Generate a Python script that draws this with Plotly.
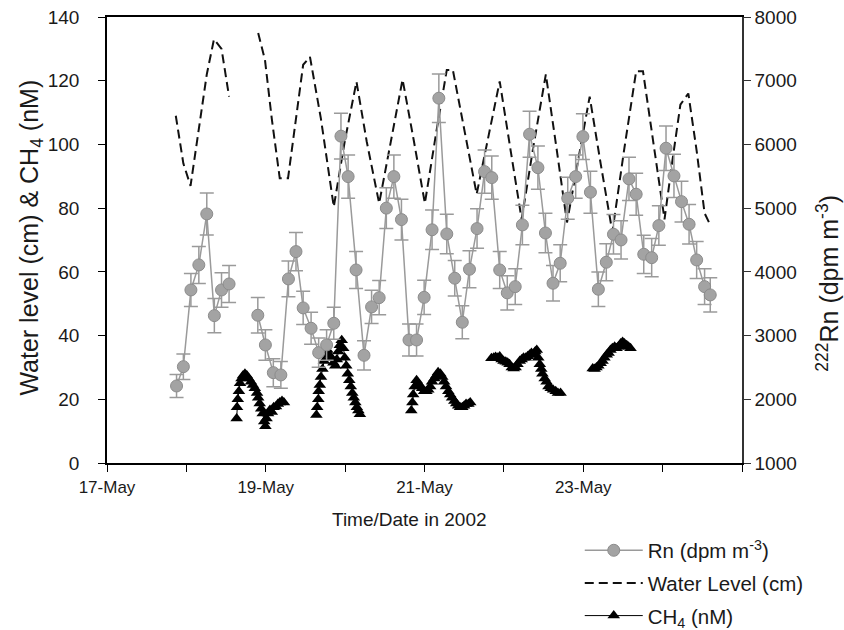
import plotly.graph_objects as go
import pandas as pd

# ---------------- data (hours after 17-May-2002 00:00) ----------------
rn_hours = [21.03, 23.09, 25.37, 27.77, 30.17, 32.46, 34.63, 36.91,
            41.14,
            45.6, 47.89, 50.29, 52.57, 54.86, 57.14, 59.31, 61.71, 64.0, 66.4, 68.57,
            70.74, 72.91, 75.31, 77.71, 80.0, 82.29, 84.46, 86.74, 89.03, 91.31, 93.6, 95.89,
            98.29, 100.34, 102.74, 105.14, 107.43, 109.6, 111.89, 114.17, 116.34, 118.74, 121.03, 123.43,
            125.6, 127.77, 130.29, 132.57, 134.86, 137.03, 139.31, 141.71, 143.89, 146.17, 148.57, 150.97,
            153.14, 155.43, 157.83, 160.0, 162.29, 164.69, 166.86, 169.03, 171.43, 173.71, 176.0, 178.29,
            180.69, 182.4]
rn_values = [2209, 2512, 3716, 4109, 4909, 3313, 3716, 3810,
             None,
             3319, 2853, 2418, 2382, 3889, 4318, 3434, 3115, 2732, 2853, 3193,
             6130, 5495, 4030, 2690, 3450, 3595, 5000, 5495, 4820, 2931, 2931, 3600,
             4660, 6726, 4595, 3900, 3209, 4041, 4679, 5573, 5479, 4030, 3670, 3768,
             4737, 6160, 5635, 4610, 3821, 4135, 5156, 5495, 6123, 5250, 3727, 4151,
             4590, 4501, 5459, 5219, 4276, 4223, 4726, 5941, 5506, 5102, 4747, 4187,
             3768, 3638]
rn_errors = [180, 200, 260, 290, 330, 270, 270, 290,
             0,
             280, 240, 220, 210, 280, 300, 260, 250, 230, 240, 250,
             360, 340, 290, 230, 260, 270, 320, 340, 320, 250, 250, 270,
             310, 380, 310, 280, 260, 290, 310, 340, 340, 290, 270, 280,
             310, 360, 340, 310, 280, 290, 330, 340, 360, 330, 270, 290,
             310, 300, 340, 330, 300, 300, 310, 350, 340, 320, 310, 290,
             280, 270]

wl_hours = [20.8, 23.09, 25.26, 28.11, 30.17, 32.34, 34.63, 36.91,
            41.14,
            45.71, 47.77, 49.83, 52.23, 54.74, 57.14, 59.31, 61.37, 64.69, 68.57,
            71.89, 75.43, 78.51, 82.29, 85.83, 89.37, 92.8, 96.11, 99.43, 102.74, 104.57,
            108.11, 111.77, 115.43, 118.74, 122.06, 125.37, 129.03, 132.69, 135.89, 139.09,
            142.63, 145.94, 149.26, 152.8, 156.46, 160.0, 162.06, 165.26, 168.57, 170.97,
            173.37, 175.77, 178.29, 180.69, 182.63]
wl_values = [109, 94, 87, 108, 122, 133, 130, 115,
             None,
             135, 126.5, 108, 89.4, 89.4, 108, 125, 127.5, 108, 80.4,
             101, 119.7, 101, 81.5, 101, 120.4, 101, 81.5, 103, 123.4, 123.4,
             104, 84.4, 103, 119.8, 98, 76.5, 100, 122, 99, 75.5,
             96, 115, 94, 72.5, 99, 123, 123, 100, 76.5, 95,
             112.5, 116, 98, 78.4, 74.2]

ch4_hours = [39.2, 39.31, 39.54, 39.89, 40.23, 40.69, 41.14, 41.71, 42.29, 42.86, 43.54, 44.11, 44.69, 45.37,
             45.71, 46.17, 46.63, 47.09, 47.54, 47.89, 48.23, 48.69, 49.26, 49.83, 50.4, 51.09, 51.66, 52.23,
             52.91, 53.49,
             58.29,
             63.31, 63.54, 63.89, 64.0, 64.34, 64.69, 65.14, 65.6, 66.06, 66.63, 67.2, 67.77, 68.46, 69.03,
             69.49, 69.94, 70.4, 70.97, 71.43, 71.89, 72.34, 72.8, 73.26, 73.71, 74.17, 74.63, 75.09, 75.54,
             76.0, 76.46,
             84.57,
             92.0, 92.34, 92.57, 93.03, 93.6, 94.06, 94.74, 95.31, 95.89, 96.57, 97.14, 97.71, 98.29, 98.97,
             99.54, 100.11, 100.8, 101.37, 101.94, 102.51, 103.2, 103.77, 104.34, 105.03, 105.6, 106.17,
             106.74, 107.43, 108.0, 108.57, 109.26, 109.83,
             113.14,
             116.23, 116.91, 117.49, 118.17, 118.74, 119.31, 119.89, 120.57, 121.14, 121.71, 122.4, 122.97,
             123.54, 124.11, 124.8, 125.37, 125.94, 126.63, 127.2, 127.77, 128.34, 129.03, 129.49, 129.94,
             130.4, 130.86, 131.31, 131.66, 132.34, 132.91, 133.49, 134.17, 134.86, 135.66, 136.34, 137.14,
             141.71,
             146.86, 147.43, 148.0, 148.57, 149.26, 149.83, 150.4, 151.09, 151.66, 152.23, 152.8, 153.49,
             154.06, 154.63, 155.31, 155.89, 156.46, 157.14, 157.71, 158.29]
ch4_values = [14.0, 17.5, 20.0, 22.5, 25.0, 26.5, 27.5, 28.0, 27.5, 26.5, 25.5, 24.5, 23.5, 22.0,
              20.5, 18.7, 17.0, 15.5, 13.0, 11.5, 14.0, 15.5, 16.6, 16.0, 17.5, 17.7, 18.5, 19.0,
              19.5, 19.0,
              None,
              15.1, 17.5, 20.0, 22.5, 24.5, 27.0, 29.5, 32.0, 34.0, 35.5, 34.0, 33.0, 31.5, 30.5,
              32.5, 35.0, 37.0, 38.5, 36.0, 33.0, 30.5, 28.0, 26.0, 24.0, 22.0, 20.5, 19.0, 17.5,
              16.5, 15.3,
              None,
              16.5, 19.0, 21.5, 24.0, 26.0, 25.0, 24.0, 23.5, 22.5, 22.5, 23.0, 24.0, 25.5, 26.5,
              27.5, 28.5, 28.0, 27.0, 25.5, 24.0, 22.5, 21.5, 20.5, 19.5, 18.7, 18.0,
              17.5, 17.5, 18.0, 18.5, 18.5, 19.0,
              None,
              32.9, 33.0, 33.3, 33.0, 33.4, 32.5, 32.0, 31.8, 31.5, 31.0, 30.0, 29.7,
              30.0, 31.0, 32.0, 32.5, 33.0, 33.0, 33.5, 34.0, 34.5, 34.0, 35.0, 35.5,
              33.0, 31.0, 29.5, 28.0, 26.5, 25.5, 24.0, 23.5, 23.0, 22.5, 22.0, 22.0,
              None,
              29.7, 29.5, 30.0, 30.5, 31.3, 32.0, 33.0, 34.0, 34.5, 35.5, 36.0, 36.5,
              36.0, 36.5, 37.5, 38.0, 37.5, 37.0, 36.5, 36.0]

x_tick_days = [0, 2, 4, 6]
x_tick_labels = ["17-May", "19-May", "21-May", "23-May"]

# ---------------- build ----------------
base = pd.Timestamp("2002-05-17")
to_dt = lambda hrs: [base + pd.Timedelta(hours=h) for h in hrs]

FONT = "Liberation Sans, Arial, sans-serif"
fig = go.Figure()

fig.add_trace(go.Scatter(
    x=to_dt(rn_hours), y=rn_values, yaxis="y2", name="Rn (dpm m<sup>-3</sup>)",
    mode="lines+markers", connectgaps=False,
    line=dict(color="#9a9a9a", width=1.5),
    marker=dict(symbol="circle", size=12, color="#a3a3a3", line=dict(color="#8c8c8c", width=1)),
    error_y=dict(type="data", array=rn_errors, visible=True, color="#9a9a9a", thickness=1.5, width=7),
    legendgroup="a"))

fig.add_trace(go.Scatter(
    x=to_dt(wl_hours), y=wl_values, name="Water Level (cm)", mode="lines", connectgaps=False,
    line=dict(color="#111111", width=2, dash="9px,5px"), legendgroup="b"))

fig.add_trace(go.Scatter(
    x=to_dt(ch4_hours), y=ch4_values, name="CH<sub>4</sub> (nM)", mode="lines+markers",
    connectgaps=False, line=dict(color="#000000", width=1),
    marker=dict(symbol="triangle-up", size=11, color="#000000"), legendgroup="c"))

tickvals = [base + pd.Timedelta(days=d) for d in x_tick_days]

fig.update_layout(
    width=844, height=630,
    margin=dict(l=107, r=102, t=17, b=167, autoexpand=False),
    paper_bgcolor="white", plot_bgcolor="white",
    font=dict(family=FONT, size=19, color="#1a1a1a"),
    showlegend=True,
    legend=dict(xref="paper", yref="container", x=0.7445, y=0.158,
                xanchor="left", yanchor="top",
                font=dict(size=20.5), tracegroupgap=3, itemwidth=58,
                bgcolor="rgba(0,0,0,0)"),
    xaxis=dict(type="date", range=[base, base + pd.Timedelta(days=8)],
               tickvals=tickvals, ticktext=x_tick_labels, tickfont=dict(size=17),
               ticks="outside", ticklen=7, tickcolor="#000", showline=True,
               linecolor="#000", linewidth=1.5, mirror=True, showgrid=False, zeroline=False,
               ticklabelstandoff=1,
               minor=dict(dtick=86400000, tick0=base, ticks="outside", ticklen=7,
                          tickcolor="#000", showgrid=False)),
    yaxis=dict(range=[0, 140], dtick=20, ticks="outside", ticklen=7, tickcolor="#000",
               showline=True, linecolor="#000", linewidth=1.5, showgrid=False,
               zeroline=False, ticklabelstandoff=15),
    yaxis2=dict(range=[1000, 8000], dtick=1000, overlaying="y", side="right",
                ticks="outside", ticklen=7, tickcolor="#333", showline=True,
                linecolor="#333", linewidth=1.5, showgrid=False, zeroline=False),
    annotations=[
        dict(text="Time/Date in 2002", xref="paper", yref="paper", x=0.477, y=-0.1256,
             xanchor="center", yanchor="middle", showarrow=False, font=dict(size=19)),
        dict(text="Water level (cm) & CH<sub>4</sub> (nM)", textangle=-90,
             xref="paper", yref="paper", x=-0.12, y=0.505, xanchor="center", yanchor="middle",
             showarrow=False, font=dict(size=25)),
        dict(text="<sup>222</sup>Rn (dpm m<sup>-3</sup>)", textangle=-90,
             xref="paper", yref="paper", x=1.135, y=0.4036, xanchor="center", yanchor="middle",
             showarrow=False, font=dict(size=25)),
    ],
)

fig.write_html("out.html")
